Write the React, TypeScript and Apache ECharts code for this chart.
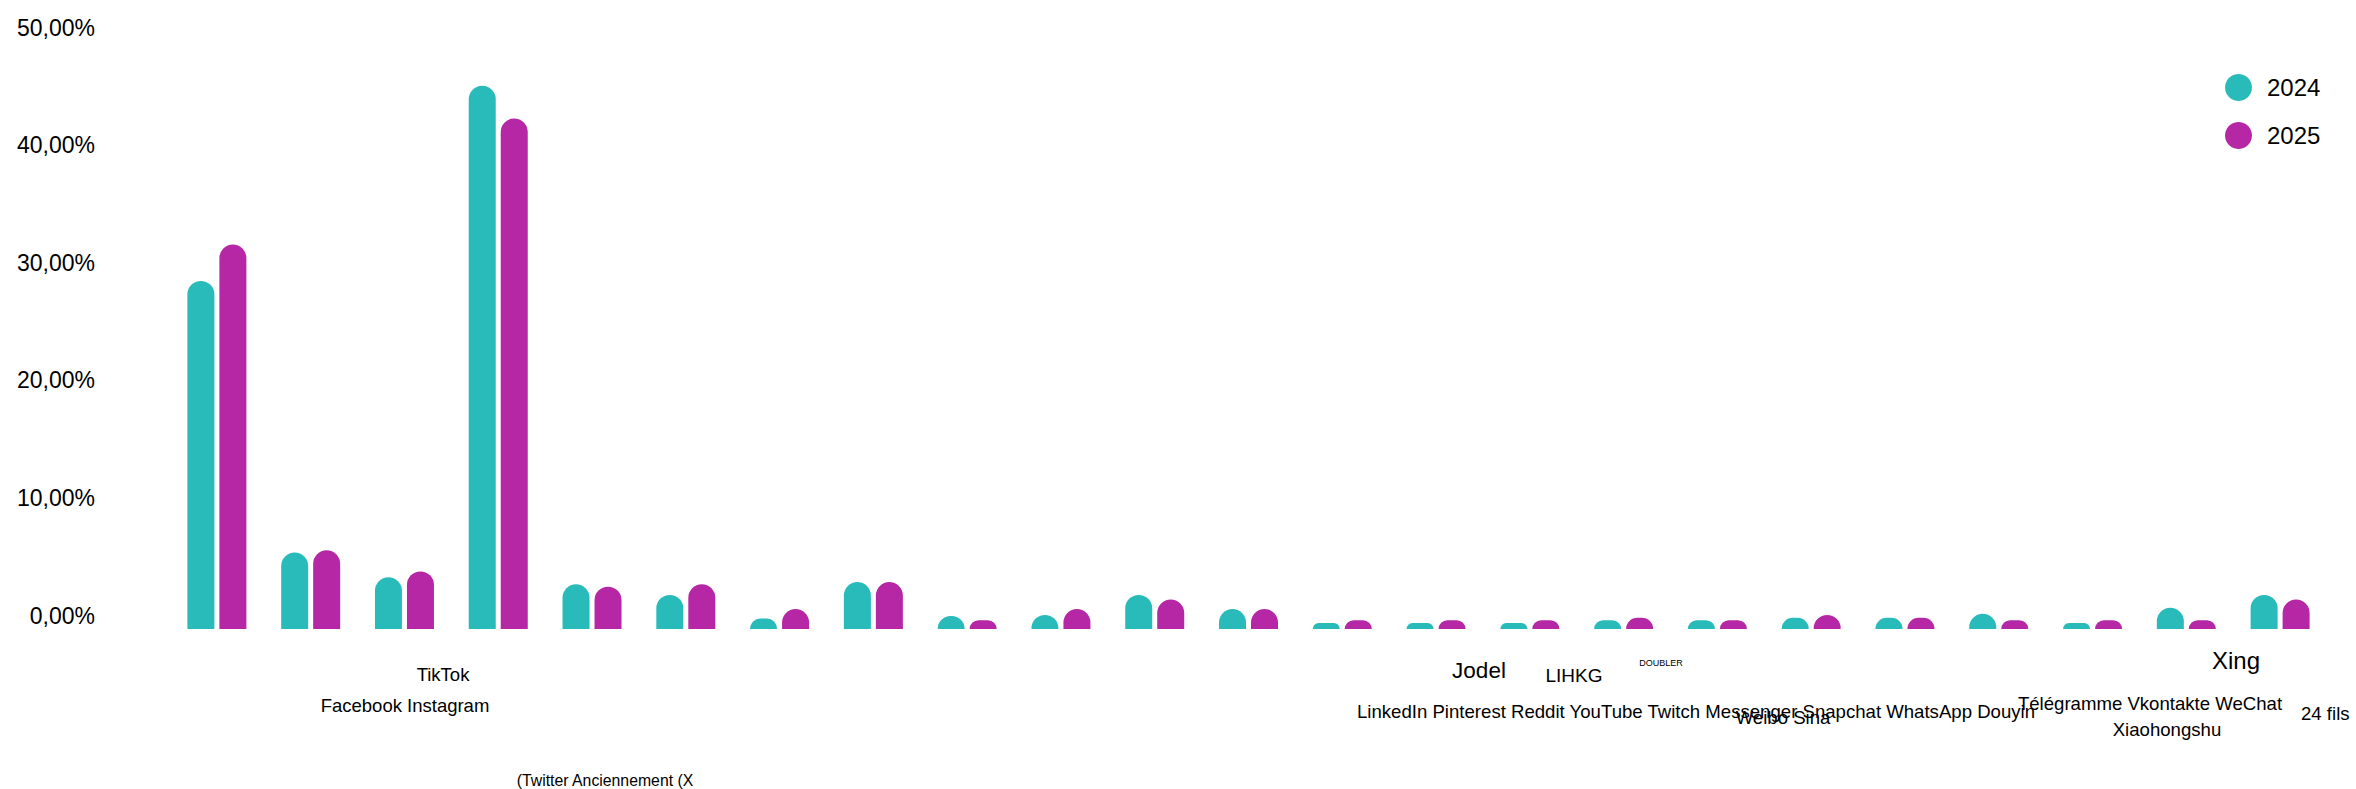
import React, { useEffect, useRef } from "react";
import * as echarts from "echarts";

const categories = [
  "Facebook", "Instagram", "(Twitter Anciennement (X", "TikTok", "LinkedIn", "Pinterest",
  "Reddit", "YouTube", "Twitch", "Messenger", "Snapchat", "WhatsApp", "Douyin", "Jodel",
  "LIHKG", "DOUBLER", "Weibo Sina", "Télégramme", "Vkontakte", "WeChat", "Xiaohongshu",
  "Xing", "24 fils",
];
const values2024 = [29.6, 6.5, 4.4, 46.2, 3.8, 2.9, 0.9, 4.0, 1.1, 1.2, 2.9, 1.7, 0.5, 0.5, 0.5, 0.75, 0.75, 0.95, 0.95, 1.3, 0.5, 1.8, 2.9];
const values2025 = [32.7, 6.7, 4.9, 43.4, 3.6, 3.8, 1.7, 4.0, 0.75, 1.7, 2.5, 1.7, 0.75, 0.75, 0.75, 0.95, 0.75, 1.2, 0.95, 0.75, 0.75, 0.75, 2.5];
const seriesNames = ["2024", "2025"];
const yTicks = [0, 10, 20, 30, 40, 50];

// scattered axis label texts (as in the reference)
const labelTexts = [
  "TikTok",
  "Facebook Instagram",
  "(Twitter Anciennement (X",
  "Jodel",
  "LIHKG",
  "DOUBLER",
  "LinkedIn Pinterest Reddit YouTube Twitch Messenger Snapchat WhatsApp Douyin",
  "Weibo Sina",
  "Télégramme Vkontakte WeChat",
  "Xiaohongshu",
  "Xing",
  "24 fils",
];
// layout: [x, y, fontSize, align]
const labelLayout: [number, number, number, string][] = [
  [443, 674, 18.5, "center"],
  [405, 705, 18.5, "center"],
  [605, 780, 15.8, "center"],
  [1479, 670, 22.5, "center"],
  [1574, 675, 19, "center"],
  [1661, 663, 9, "center"],
  [1357, 711, 18.6, "left"],
  [1783, 717, 18.6, "center"],
  [2150, 703, 18.6, "center"],
  [2167, 729, 18.6, "center"],
  [2236, 660, 24, "center"],
  [2301, 713, 18.6, "left"],
];

const TEAL = "#29BBBA";
const MAGENTA = "#B527A4";
const FONT = "'Liberation Sans', Arial, Helvetica, sans-serif";

export default function App() {
  const ref = useRef<HTMLDivElement>(null);
  useEffect(() => {
    if (!ref.current) return;
    const chart = echarts.init(ref.current, null, { renderer: "svg" });
    const graphics = labelTexts.map((t, i) => {
      const [x, y, fs, align] = labelLayout[i];
      return {
        type: "text",
        x,
        y,
        silent: true,
        style: {
          text: t,
          fill: "#000",
          fontSize: fs,
          fontFamily: FONT,
          align,
          verticalAlign: "middle",
          textAlign: align,
          textVerticalAlign: "middle",
        },
      };
    });
    chart.setOption({
      animation: false,
      backgroundColor: "#fff",
      textStyle: { fontFamily: FONT },
      grid: { left: 170, right: 29, top: 41, bottom: 160, containLabel: false },
      legend: {
        orient: "vertical",
        left: 2220,
        top: 69,
        itemWidth: 27,
        itemHeight: 27,
        itemGap: 21,
        icon: "circle",
        data: seriesNames,
        textStyle: { fontSize: 24, lineHeight: 27, color: "#000", fontFamily: FONT, padding: [0, 0, 0, 10] },
      },
      xAxis: {
        type: "category",
        data: categories,
        axisLine: { show: false },
        axisTick: { show: false },
        axisLabel: { show: false },
        splitLine: { show: false },
      },
      yAxis: {
        type: "value",
        min: 0,
        max: 50,
        interval: 10,
        axisLine: { show: false },
        axisTick: { show: false },
        splitLine: { show: false },
        axisLabel: {
          fontSize: 23,
          color: "#000",
          fontFamily: FONT,
          margin: 75,
          verticalAlign: "bottom",
          padding: [0, 0, 2, 0],
          formatter: (v: number) => (yTicks.includes(v) ? v.toFixed(2).replace(".", ",") + "%" : ""),
        },
      },
      series: [
        {
          name: seriesNames[0],
          type: "bar",
          data: values2024,
          barWidth: 27,
          barGap: "18.5%",
          itemStyle: { color: TEAL, borderRadius: [13.5, 13.5, 0, 0] },
        },
        {
          name: seriesNames[1],
          type: "bar",
          data: values2025,
          barWidth: 27,
          barGap: "18.5%",
          itemStyle: { color: MAGENTA, borderRadius: [13.5, 13.5, 0, 0] },
        },
      ],
      graphic: graphics,
    });
    return () => chart.dispose();
  }, []);
  return (
    <div
      ref={ref}
      style={{ position: "fixed", left: 0, top: 0, width: 2356, height: 789, background: "#fff" }}
    />
  );
}
